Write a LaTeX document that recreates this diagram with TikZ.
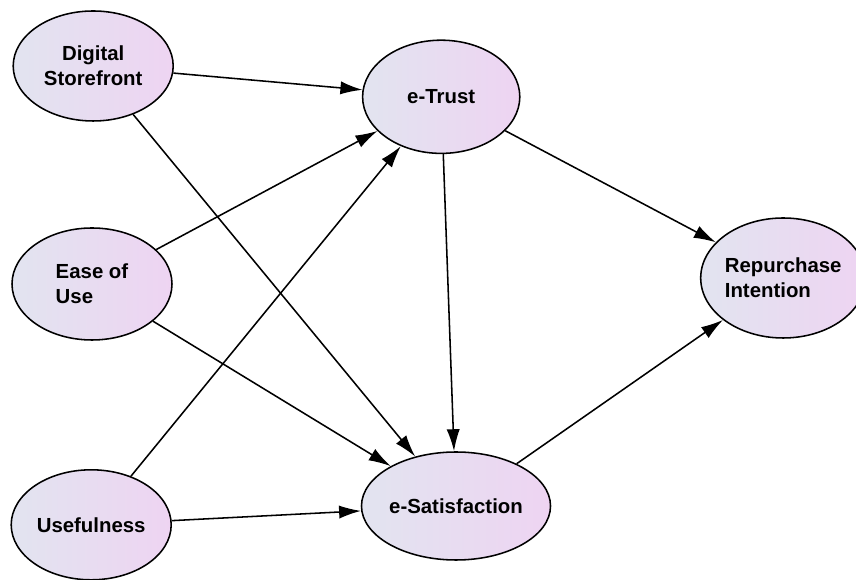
\documentclass[tikz,border=0pt]{standalone}
\usepackage{fontspec}
\setsansfont{Liberation Sans}
\usepackage{xcolor}
\usetikzlibrary{arrows.meta,positioning,shapes.geometric}

\definecolor{leftlav}{RGB}{226,228,240}
\definecolor{rightlav}{RGB}{238,212,242}

\begin{document}
\begin{tikzpicture}[
  construct/.style={ellipse, draw=black, line width=1.1pt, minimum width=4cm, minimum height=2.75cm,
    align=center, font=\sffamily\bfseries\fontsize{14.5}{17.5}\selectfont, inner sep=0pt,
    left color=leftlav, right color=rightlav},
  path/.style={-{Latex[length=5.5mm,width=3.3mm]}, line width=1.1pt}
]
  \useasboundingbox (0,0) rectangle (21.4,14.5);

  % Exogenous constructs (left column)
  \node[construct] (ds) at (2.33,12.85) {Digital\\Storefront};
  \node[construct, minimum height=2.8cm, align=left] (eou) at (2.3,7.4) {Ease of\\Use};
  \node[construct] (use) at (2.28,1.38) {Usefulness};

  % Mediators and outcome
  \node[construct, minimum width=3.93cm, minimum height=2.83cm] (trust) at (11.03,12.08) {e-Trust};
  \node[construct, minimum width=3.93cm, minimum height=2.7cm] (sat) at (11.4,1.85) {e-Satisfaction};
  \node[construct, minimum width=3.6cm, minimum height=3cm, align=left] (ri) at (19.58,7.55) {Repurchase\\Intention};

  % Paths
  \draw[path] (ds) -- (trust);
  \draw[path] (ds) -- (sat);
  \draw[path] (eou) -- (trust);
  \draw[path] (eou) -- (sat);
  \draw[path] (use) -- (trust);
  \draw[path] (use) -- (sat);
  \draw[path] (trust) -- (sat);
  \draw[path] (trust) -- (ri);
  \draw[path] (sat) -- (ri);
\end{tikzpicture}
\end{document}
